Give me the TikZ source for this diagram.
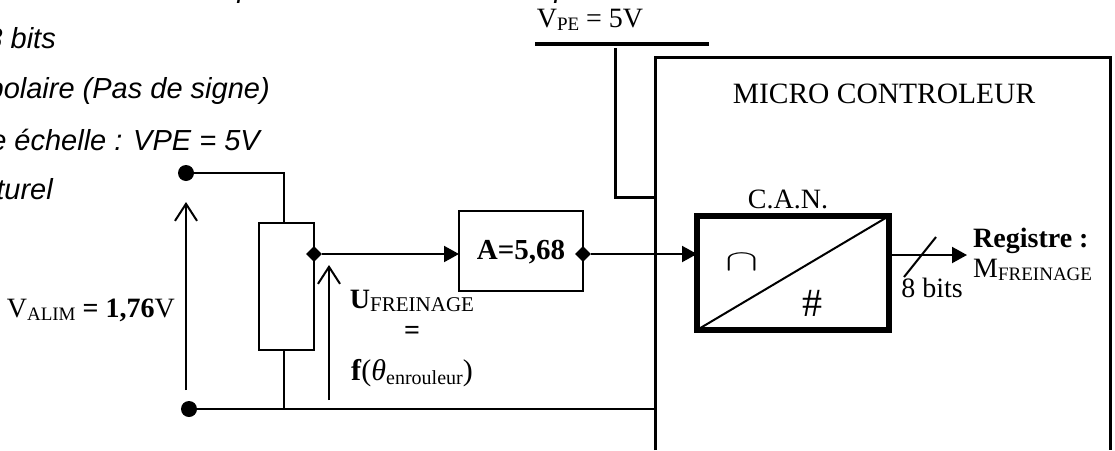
\documentclass[tikz,border=0pt]{standalone}
\usepackage{fontspec}
\setmainfont{Liberation Serif}
\newfontfamily\notefont{Liberation Sans}
\usetikzlibrary{arrows.meta}
\usetikzlibrary{shapes.geometric}
\newcommand{\lowtxt}[2][19]{\raisebox{-0.3ex}{\fontsize{#1}{#1}\selectfont #2}}
\tikzset{%
    vtx/.style={inner sep=0pt,circle,fill=black,minimum size=16pt},
    jct/.style={inner sep=0pt,diamond,fill=black,minimum size=16pt},
    wire/.style={line width=2pt},
    heavy/.style={line width=3pt},
    box/.style={draw,inner sep=0pt,outer sep=0pt},
    note/.style={inner sep=0pt,anchor=base east,font=\notefont\itshape\fontsize{29}{29}\selectfont},
    lbl/.style={inner sep=0pt,font=\fontsize{28}{28}\selectfont},
    sens/.style={line width=2pt,-{Straight Barb[length=17pt,width=22pt,line width=2pt]}},
    sig/.style={line width=2pt,-{Triangle[length=15pt,width=16pt]}}
}
\begin{document}
\begin{tikzpicture}[x=1pt,y=-1pt]
            \useasboundingbox (0,0) rectangle (1115,450);
            \clip (0,0) rectangle (1115,450);
            % notes cut by the page
            \node[note] (n0) at (254,-3) {p};
            \node[note] (n00) at (571,-3) {p};
            \node[note] (n1) at (56,48) {8 bits};
            \node[note] (n2) at (270,98) {Unipolaire (Pas de signe)};
            \node[note] (n3) at (260,150) {Pleine échelle : VPE = 5V};
            \node[note] (n4) at (53,199) {Naturel};
            % potentiometer side
            \node[vtx] (top) at (186,173){};
            \node[vtx] (bot) at (189,409){};
            \node[box,line width=2.5pt,minimum width=55pt,minimum height=127pt] (pot) at (286.5,286.5){};
            \node[jct] (wiper) at (314,254){};
            \coordinate (ua) at (186,390);
            \coordinate (ub) at (186,202);
            \coordinate (fa) at (329,400);
            \coordinate (fb) at (329,265);
            \draw[wire] (top) -| (284,223);
            \draw[wire] (284,350) -- (284,409);
            \draw[sens] (ua) -- (ub);
            \draw[sens] (fa) -- (fb);
            \node[lbl,anchor=base east] (valim) at (175,317) {V\lowtxt{ALIM} \textbf{= 1,76}V};
            \node[lbl,anchor=base] (ufr) at (412,308) {\textbf{U}\lowtxt[21]{FREINAGE}};
            \node[lbl] (eq) at (412,333) {\textbf{=}};
            \node[lbl,anchor=base,font=\fontsize{30}{30}\selectfont] (ftheta) at (412,380) {\textbf{f}(\textit{θ}\lowtxt[20]{enrouleur})};
            % amplifier
            \node[box,line width=2pt,minimum width=124pt,minimum height=80pt] (amp) at (521,251) {};
            \node[lbl,anchor=base,font=\bfseries\fontsize{29}{29}\selectfont] (gain) at (521,259) {A=5,68};
            \node[jct] (ampout) at (583,254){};
            % micro controller
            \coordinate (mcubl) at (655,450);
            \coordinate (mcutl) at (655,57);
            \coordinate (mcutr) at (1110,57);
            \coordinate (mcubr) at (1110,450);
            \draw[heavy] (mcubl) -- (mcutl) -- (mcutr) -- (mcubr);
            \node[lbl,anchor=base,font=\fontsize{29.5}{29.5}\selectfont] (mcu) at (884,103) {MICRO CONTROLEUR};
            \node[box,line width=5.5pt,minimum width=192pt,minimum height=114pt] (can) at (793,273){};
            \node[lbl,anchor=base] (cantxt) at (788,208) {C.A.N.};
            \draw[wire] (can.south west) -- (can.north east);
            \node[inner sep=0pt,xscale=2,yscale=1.2] (ana) at (742,262) {\fontsize{24}{24}\selectfont$\cap$};
            \node[inner sep=0pt] (num) at (812,303) {\fontsize{40}{40}\selectfont\#};
            % supply
            \coordinate (bara) at (535,44);
            \coordinate (barb) at (709,44);
            \coordinate (stub) at (615,48);
            \coordinate (pin) at (655,197);
            \draw[line width=4pt] (bara) -- (barb);
            \draw[heavy] (stub) |- (pin);
            \node[lbl,anchor=base] (vpe) at (590,27) {V\lowtxt{PE} = 5V};
            % signal path
            \draw[sig] (wiper) -- (amp.west |- wiper);
            \draw[sig] (ampout) -- (can.west |- ampout);
            \draw[wire] (bot) -- (mcutl |- bot);
            % output
            \coordinate (out) at (967,255);
            \coordinate (sla) at (904,277);
            \coordinate (slb) at (936,237);
            \draw[sig] (can.east |- out) -- (out);
            \draw[wire] (sla) -- (slb);
            \node[lbl,anchor=base] (nbits) at (932,297) {8 bits};
            \node[lbl,anchor=base west] (reg) at (973,247) {\textbf{Registre :}};
            \node[lbl,anchor=base west] (regm) at (973,277) {M\lowtxt{FREINAGE}};
\end{tikzpicture}
\end{document}
